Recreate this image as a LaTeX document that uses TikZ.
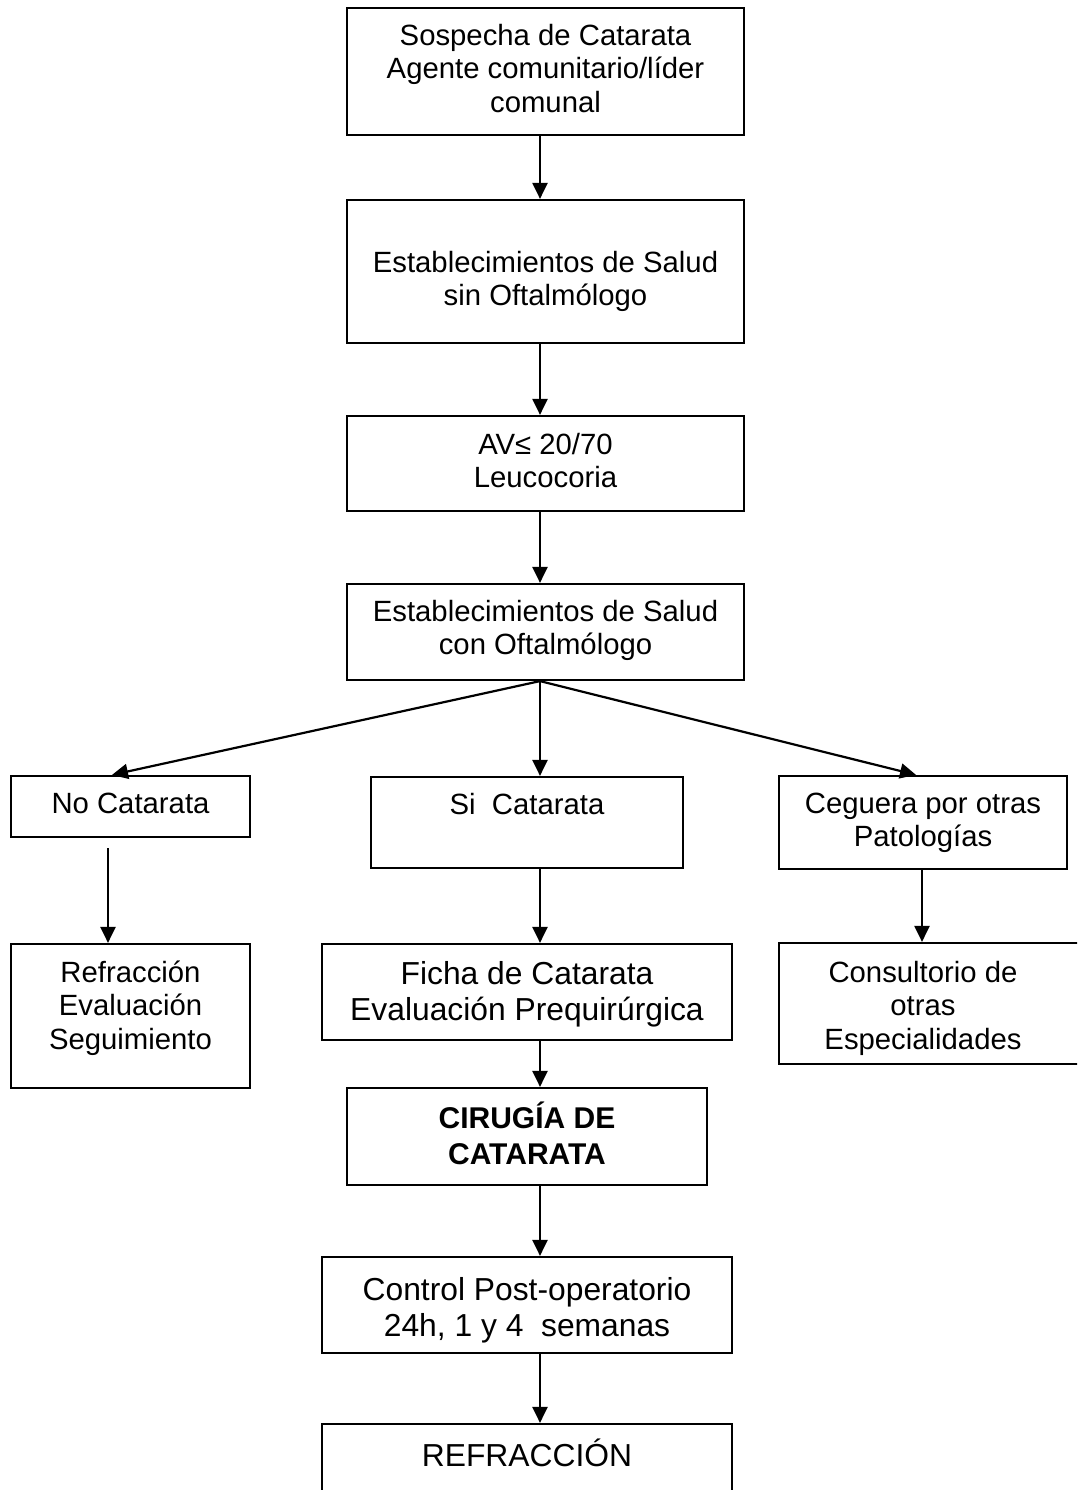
\documentclass[tikz,border=0pt]{standalone}
\usepackage{fontspec}
\setmainfont{Liberation Sans}
\usetikzlibrary{positioning,arrows.meta}
\newcommand\tstrut{\rule{0pt}{30pt}}
\tikzset{
  box/.style={draw, line width=2.2pt, inner sep=0pt},
  txt/.style={anchor=north, inner sep=0pt, align=center, font=\fontsize{29.3}{33.7}\selectfont},
  bigtxt/.style={txt, font=\fontsize{31.8}{36.5}\selectfont},
  arr/.style={line width=2.2pt, -{Triangle[length=16pt,width=15pt]}}
}
\begin{document}
\begin{tikzpicture}[x=1pt,y=-1pt]
  \clip (0,0) rectangle (1077,1490);
  \fill[white] (0,0) rectangle (1077,1490);
  \coordinate (spine) at (540,0);
  \coordinate (lcol) at (108,0);
  \coordinate (ltip) at (112,0);
  \coordinate (rtip) at (916,0);
  \coordinate (rcol) at (922,0);

  \node[box, minimum width=397, minimum height=127] (sosp) at (545.5,71.5) {};
  \node[box, minimum width=397, minimum height=143] (sinof) at (545.5,271.5) {};
  \node[box, minimum width=397, minimum height=95] (av) at (545.5,463.5) {};
  \node[box, minimum width=397, minimum height=96] (conof) at (545.5,632) {};
  \node[box, minimum width=239, minimum height=61] (noc) at (130.5,806.5) {};
  \node[box, minimum width=312, minimum height=91] (sic) at (527,822.5) {};
  \node[box, minimum width=288, minimum height=93] (ceg) at (923,822.5) {};
  \node[box, minimum width=239, minimum height=144] (refr) at (130.5,1016) {};
  \node[box, minimum width=410, minimum height=96] (ficha) at (527,992) {};
  \node[box, minimum width=306, minimum height=121] (cons) at (932,1003.5) {};
  \node[box, minimum width=360, minimum height=97] (cir) at (527,1136.5) {};
  \node[box, minimum width=410, minimum height=96] (ctrl) at (527,1305) {};
  \node[box, minimum width=410, minimum height=96] (refrac) at (527,1472) {};

  \node[txt, below=8pt of sosp.north] (sosp-t) {\tstrut Sospecha de Catarata\\Agente comunitario/líder\\comunal};
  \node[txt, below=43pt of sinof.north] (sinof-t) {\tstrut Establecimientos de Salud\\sin Oftalmólogo};
  \node[txt, below=9pt of av.north] (av-t) {\tstrut AV≤ 20/70\\Leucocoria};
  \node[txt, below=8pt of conof.north] (conof-t) {\tstrut Establecimientos de Salud\\con Oftalmólogo};
  \node[txt, below=8pt of noc.north] (noc-t) {\tstrut No Catarata};
  \node[txt, below=8pt of sic.north] (sic-t) {\tstrut Si\ \ Catarata};
  \node[txt, below=8pt of ceg.north] (ceg-t) {\tstrut Ceguera por otras\\Patologías};
  \node[txt, below=9pt of refr.north] (refr-t) {\tstrut Refracción\\Evaluación\\Seguimiento};
  \node[bigtxt, below=11pt of ficha.north] (ficha-t) {\tstrut Ficha de Catarata\\Evaluación Prequirúrgica};
  \node[txt, below=10pt of cons.north -| ceg.north] (cons-t) {\tstrut Consultorio de\\otras\\Especialidades};
  \node[txt, below=11pt of cir.north, font=\fontsize{30}{36}\selectfont\bfseries] (cir-t) {\tstrut CIRUGÍA DE\\CATARATA};
  \node[bigtxt, below=14pt of ctrl.north] (ctrl-t) {\tstrut Control Post-operatorio\\24h, 1 y 4\ \ semanas};
  \node[bigtxt, below=13pt of refrac.north] (refrac-t) {\tstrut REFRACCIÓN};

  \draw[arr] (sosp.south -| spine) -- (sinof.north -| spine);
  \draw[arr] (sinof.south -| spine) -- (av.north -| spine);
  \draw[arr] (av.south -| spine) -- (conof.north -| spine);
  \draw[arr] (conof.south -| spine) -- (noc.north -| ltip);
  \draw[arr] (conof.south -| spine) -- (sic.north -| spine);
  \draw[arr] (conof.south -| spine) -- (ceg.north -| rtip);
  \draw[arr] ([yshift=-10pt]noc.south -| lcol) -- (refr.north -| lcol);
  \draw[arr] (sic.south -| spine) -- (ficha.north -| spine);
  \draw[arr] (ceg.south -| rcol) -- (cons.north -| rcol);
  \draw[arr] (ficha.south -| spine) -- (cir.north -| spine);
  \draw[arr] (cir.south -| spine) -- (ctrl.north -| spine);
  \draw[arr] (ctrl.south -| spine) -- (refrac.north -| spine);
\end{tikzpicture}
\end{document}
